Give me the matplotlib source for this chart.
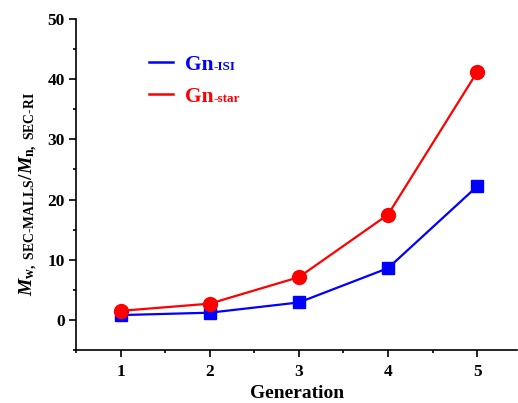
import matplotlib
matplotlib.use("Agg")
import matplotlib.pyplot as plt
from matplotlib.ticker import MultipleLocator

generation = [1, 2, 3, 4, 5]
gn_isi = [0.8, 1.2, 2.9, 8.6, 22.2]
gn_star = [1.5, 2.7, 7.1, 17.5, 41.2]
xticks = [1, 2, 3, 4, 5]
yticks = [0, 10, 20, 30, 40, 50]
series_main = ['Gn', 'Gn']
series_suffix = ['-ISI', '-star']
colors = ['#0000ff', '#ff0000']

HY = '\u2010'

plt.rcParams['font.family'] = 'Liberation Serif'
plt.rcParams['font.weight'] = 'bold'
plt.rcParams['mathtext.fontset'] = 'custom'
plt.rcParams['mathtext.rm'] = 'Liberation Serif:bold'
plt.rcParams['mathtext.it'] = 'Liberation Serif:italic:bold'
plt.rcParams['mathtext.bf'] = 'Liberation Serif:bold'

fig = plt.figure(figsize=(5.18, 4.03), dpi=100)
ax = fig.add_axes([0.1467, 0.1315, 0.852, 0.8214])

ax.plot(generation, gn_isi, color=colors[0], lw=1.6, marker='s', ms=9,
        label=series_main[0])
ax.plot(generation, gn_star, color=colors[1], lw=1.6, marker='o', ms=10,
        label=series_main[1])

ax.set_xlim(0.5, 5.45)
ax.set_ylim(-5, 50)
ax.set_xticks(xticks)
ax.set_yticks(yticks)
ax.xaxis.set_minor_locator(MultipleLocator(0.5))
ax.yaxis.set_minor_locator(MultipleLocator(5))
ax.tick_params(which='major', direction='out', length=5, width=1.2,
               labelsize=12.5, pad=3)
ax.tick_params(axis='x', which='major', pad=5)
ax.tick_params(which='minor', direction='out', length=2.5, width=1.2)
for lab in ax.get_xticklabels() + ax.get_yticklabels():
    lab.set_fontweight('bold')
for s in ['top', 'right']:
    ax.spines[s].set_visible(False)
for s in ['left', 'bottom']:
    ax.spines[s].set_linewidth(1.2)

ax.set_xlabel('Generation', fontsize=14, fontweight='bold', labelpad=3.5)
ax.set_ylabel(r'$M_{\mathrm{w,\ SEC' + HY + r'MALLS}}/M_{\mathrm{n,\ SEC' + HY + r'RI}}$',
              fontsize=14)
ax.yaxis.set_label_coords(-0.082, 0.47)

leg = ax.legend(loc='upper left', bbox_to_anchor=(0.145, 0.918), frameon=False,
                handlelength=1.15, handletextpad=0.55, labelspacing=0.55,
                borderaxespad=0.0,
                prop={'size': 15.5, 'weight': 'bold'})
for h in leg.legend_handles:
    h.set_marker('')
    h.set_linewidth(1.8)
for t, c in zip(leg.get_texts(), colors):
    t.set_color(c)

fig.canvas.draw()
renderer = fig.canvas.get_renderer()
for t, suf, c in zip(leg.get_texts(), series_suffix, colors):
    bb = t.get_window_extent(renderer)
    _, _, d = renderer.get_text_width_height_descent('lp', t.get_fontproperties(), ismath=False)
    x, y = fig.transFigure.inverted().transform((bb.x1, bb.y0 + d))
    fig.text(x, y, suf, color=c, fontsize=9.5, fontweight='bold', va='baseline', ha='left')

fig.savefig('out.png', dpi=100)
